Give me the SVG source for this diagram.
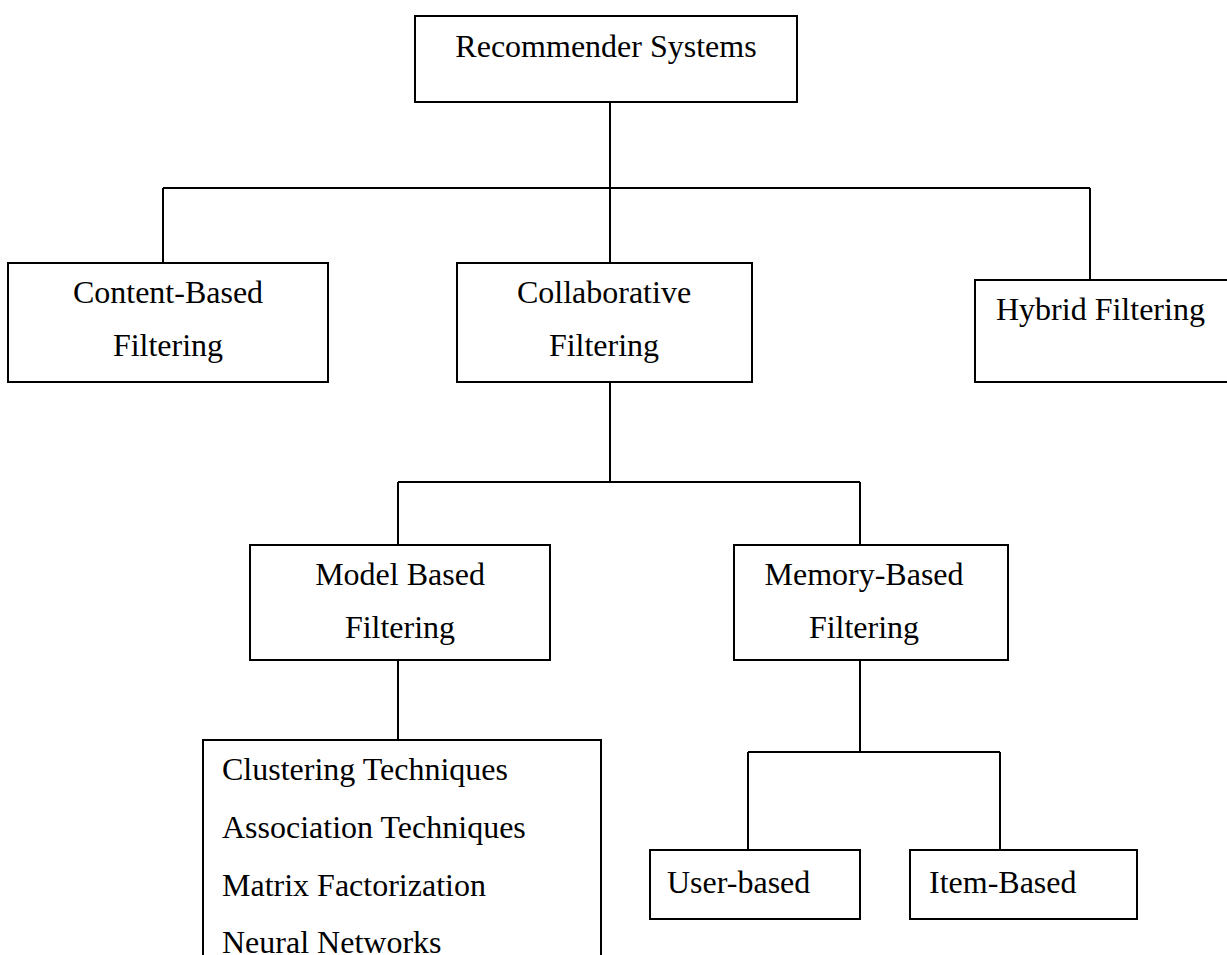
<svg xmlns="http://www.w3.org/2000/svg" width="1227" height="955" viewBox="0 0 1227 955">
<style>
.box{fill:#fff;stroke:#000;stroke-width:2}
.ln{fill:none;stroke:#000;stroke-width:2}
text{font-family:"Liberation Serif","Times New Roman",serif;font-size:32px;fill:#000}
.c{text-anchor:middle}
</style>
<rect width="1227" height="955" fill="#fff"/>
<g id="connectors">
<path class="ln" d="M610 102V188M163 188H1090M163 188V263M610 188V263M1090 188V280"/>
<path class="ln" d="M610 382V482M398 482H860M398 482V545M860 482V545"/>
<path class="ln" d="M398 660V740"/>
<path class="ln" d="M860 660V752M748 752H1000M748 752V850M1000 752V850"/>
</g>
<g id="recommender"><rect class="box" x="415" y="16" width="382" height="86"/><text class="c" x="606" y="57">Recommender Systems</text></g>
<g id="content"><rect class="box" x="8" y="263" width="320" height="119"/><text class="c" x="168" y="303">Content-Based</text><text class="c" x="168" y="356">Filtering</text></g>
<g id="collaborative"><rect class="box" x="457" y="263" width="295" height="119"/><text class="c" x="604" y="303">Collaborative</text><text class="c" x="604" y="356">Filtering</text></g>
<g id="hybrid"><rect class="box" x="975" y="280" width="260" height="102"/><text x="996" y="320">Hybrid Filtering</text></g>
<g id="model"><rect class="box" x="250" y="545" width="300" height="115"/><text class="c" x="400" y="585">Model Based</text><text class="c" x="400" y="638">Filtering</text></g>
<g id="memory"><rect class="box" x="734" y="545" width="274" height="115"/><text class="c" x="864" y="585">Memory-Based</text><text class="c" x="864" y="638">Filtering</text></g>
<g id="techniques"><rect class="box" x="203" y="740" width="398" height="230"/><text x="222" y="780">Clustering Techniques</text><text x="222" y="838">Association Techniques</text><text x="222" y="896">Matrix Factorization</text><text x="222" y="953">Neural Networks</text></g>
<g id="user"><rect class="box" x="650" y="850" width="210" height="69"/><text x="667" y="893">User-based</text></g>
<g id="item"><rect class="box" x="910" y="850" width="227" height="69"/><text x="929" y="893">Item-Based</text></g>
</svg>
